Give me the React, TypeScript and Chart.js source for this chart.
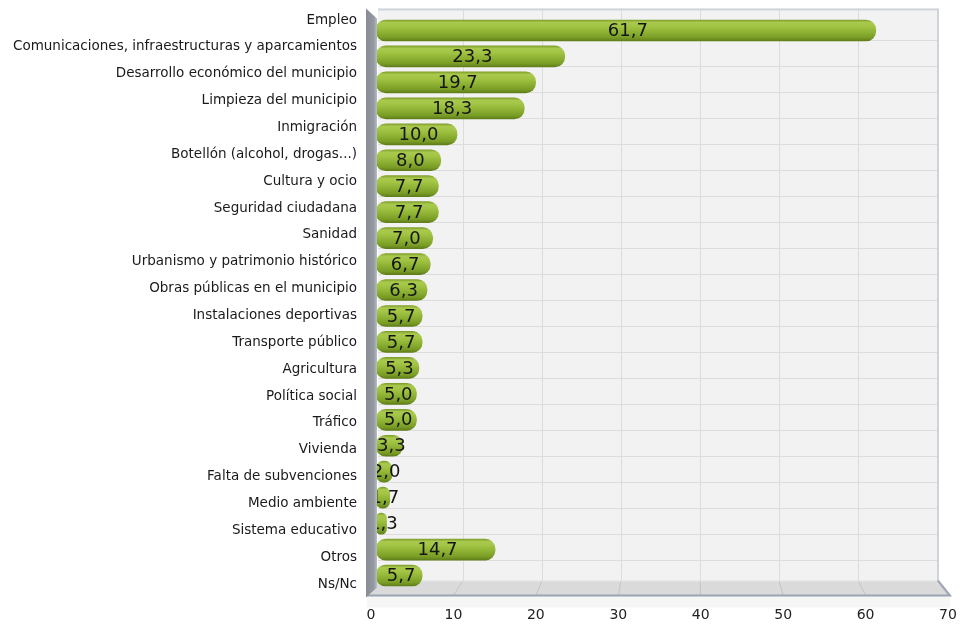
import React, { useEffect, useRef } from "react";
import { Chart, registerables } from "chart.js";

Chart.register(...registerables);

const categories = [
  "Empleo",
  "Comunicaciones, infraestructuras y aparcamientos",
  "Desarrollo económico del municipio",
  "Limpieza del municipio",
  "Inmigración",
  "Botellón (alcohol, drogas...)",
  "Cultura y ocio",
  "Seguridad ciudadana",
  "Sanidad",
  "Urbanismo y patrimonio histórico",
  "Obras públicas en el municipio",
  "Instalaciones deportivas",
  "Transporte público",
  "Agricultura",
  "Política social",
  "Tráfico",
  "Vivienda",
  "Falta de subvenciones",
  "Medio ambiente",
  "Sistema educativo",
  "Otros",
  "Ns/Nc",
];

const values = [
  61.7, 23.3, 19.7, 18.3, 10.0, 8.0, 7.7, 7.7, 7.0, 6.7, 6.3, 5.7, 5.7, 5.3,
  5.0, 5.0, 3.3, 2.0, 1.7, 1.3, 14.7, 5.7,
];

const tickValues = [0, 10, 20, 30, 40, 50, 60, 70];
const axisMax = 70;

const FONT = "'DejaVu Sans', Verdana, sans-serif";

const scenePlugin = {
  id: "scene3d",
  beforeDatasetsDraw(chart: any) {
    const { ctx, chartArea } = chart;
    const L = chartArea.left;
    const R = chartArea.right;
    const T = chartArea.top;
    const B = chartArea.bottom;
    const back = (v: number) => L + 8 + (v / axisMax) * (R - L - 14);
    const front = (v: number) => L - 5 + (v / axisMax) * (R - L + 10);
    const wallTop = T - 9;
    const wallBottom = B - 8;
    const floorBottom = B + 7;
    ctx.save();
    ctx.fillStyle = "#f2f2f2";
    ctx.fillRect(back(0) - 6, wallTop, back(axisMax) - back(0) + 6, wallBottom - wallTop);
    ctx.strokeStyle = "#dcdcdc";
    ctx.lineWidth = 1;
    const n = categories.length;
    const step = (B - T) / n;
    for (let k = 1; k < n; k++) {
      const y = Math.round(T + k * step - 3) + 0.5;
      ctx.beginPath();
      ctx.moveTo(back(0) - 6, y);
      ctx.lineTo(back(axisMax), y);
      ctx.stroke();
    }
    for (const v of tickValues) {
      if (v === 0) continue;
      const x = Math.round(back(v)) + 0.5;
      ctx.beginPath();
      ctx.moveTo(x, wallTop);
      ctx.lineTo(x, wallBottom);
      ctx.stroke();
    }
    ctx.strokeStyle = "#cfd4dc";
    ctx.lineWidth = 2;
    ctx.beginPath();
    ctx.moveTo(back(0) - 6, wallTop + 1);
    ctx.lineTo(back(axisMax) + 1, wallTop + 1);
    ctx.lineTo(back(axisMax) + 1, wallBottom);
    ctx.stroke();
    ctx.fillStyle = "#f6f6f6";
    ctx.fillRect(front(0) - 4, floorBottom, front(axisMax) - front(0) + 6, 12);
    ctx.fillStyle = "#dadada";
    ctx.beginPath();
    ctx.moveTo(back(0) - 6, wallBottom);
    ctx.lineTo(back(axisMax) + 2, wallBottom);
    ctx.lineTo(front(axisMax) + 2, floorBottom);
    ctx.lineTo(front(0) - 4, floorBottom);
    ctx.closePath();
    ctx.fill();
    ctx.strokeStyle = "#c4c4c4";
    ctx.lineWidth = 1;
    for (const v of tickValues) {
      if (v === 0) continue;
      ctx.beginPath();
      ctx.moveTo(back(v), wallBottom);
      ctx.lineTo(front(v), floorBottom);
      ctx.stroke();
    }
    ctx.strokeStyle = "#e6e6e6";
    ctx.beginPath();
    ctx.moveTo(back(0) - 6, wallBottom + 0.5);
    ctx.lineTo(back(axisMax), wallBottom + 0.5);
    ctx.stroke();
    ctx.strokeStyle = "#9aa4b2";
    ctx.lineWidth = 2;
    ctx.beginPath();
    ctx.moveTo(front(0) - 4, floorBottom);
    ctx.lineTo(front(axisMax) + 2, floorBottom);
    ctx.lineTo(back(axisMax) + 1, wallBottom);
    ctx.stroke();
    ctx.restore();
  },
  afterDatasetsDraw(chart: any) {
    const { ctx, chartArea } = chart;
    const meta = chart.getDatasetMeta(0);
    const L = chartArea.left;
    const R = chartArea.right;
    const T = chartArea.top;
    const B = chartArea.bottom;
    ctx.save();
    ctx.font = `18px ${FONT}`;
    ctx.fillStyle = "#151515";
    ctx.textAlign = "center";
    ctx.textBaseline = "middle";
    meta.data.forEach((bar: any, i: number) => {
      const label = values[i].toFixed(1).replace(".", ",");
      const cx = (bar.base + bar.x) / 2 + 2;
      ctx.fillText(label, cx, bar.y + 1);
    });
    const wallTop = T - 9;
    const wallBottom = B + 9;
    const x0 = L - 10;
    const x1 = L + 1;
    const grad = ctx.createLinearGradient(x0, 0, x1, 0);
    grad.addColorStop(0, "#878b93");
    grad.addColorStop(0.7, "#959aa2");
    grad.addColorStop(1, "#b9bdc4");
    ctx.fillStyle = grad;
    ctx.beginPath();
    ctx.moveTo(x0, wallTop);
    ctx.lineTo(x1, wallTop + 10);
    ctx.lineTo(x1, wallBottom - 10);
    ctx.lineTo(x0, wallBottom);
    ctx.closePath();
    ctx.fill();
    ctx.font = `13.5px ${FONT}`;
    ctx.fillStyle = "#1a1a1a";
    ctx.textAlign = "right";
    ctx.textBaseline = "middle";
    const n = categories.length;
    const first = T + 2.5;
    const last = B - 4.5;
    categories.forEach((c, i) => {
      const y = first + (i * (last - first)) / (n - 1);
      ctx.fillText(c, L - 19, y);
    });
    const front = (v: number) => L - 5 + (v / axisMax) * (R - L + 10);
    ctx.font = `14px ${FONT}`;
    ctx.fillStyle = "#222";
    ctx.textAlign = "center";
    ctx.textBaseline = "middle";
    tickValues.forEach((v) => {
      ctx.fillText(String(v), front(v), B + 27);
    });
    ctx.restore();
  },
};

export default function App() {
  const canvasRef = useRef<HTMLCanvasElement | null>(null);

  useEffect(() => {
    const canvas = canvasRef.current;
    if (!canvas) return;
    const chart = new Chart(canvas, {
      type: "bar",
      data: {
        labels: categories,
        datasets: [
          {
            data: values,
            barThickness: 21,
            borderRadius: 10,
            borderSkipped: false,
            backgroundColor: (c: any) => {
              const ch = c.chart;
              const area = ch.chartArea;
              if (!area) return "#8fb436";
              const y = ch.scales.y.getPixelForValue(c.dataIndex);
              const g = ch.ctx.createLinearGradient(0, y - 10.5, 0, y + 10.5);
              g.addColorStop(0, "#7f9f2c");
              g.addColorStop(0.12, "#a9c94e");
              g.addColorStop(0.3, "#a3c545");
              g.addColorStop(0.6, "#8cb032");
              g.addColorStop(0.85, "#789b25");
              g.addColorStop(1, "#5f7d1a");
              return g;
            },
          },
        ],
      },
      options: {
        indexAxis: "y",
        animation: false,
        responsive: false,
        maintainAspectRatio: false,
        layout: { padding: { left: 376, right: 19, top: 17.5, bottom: 36.5 } },
        plugins: {
          legend: { display: false },
          tooltip: { enabled: false },
        },
        scales: {
          x: { display: false, min: 0, max: axisMax },
          y: { display: false, offset: true },
        },
      },
      plugins: [scenePlugin],
    });
    return () => chart.destroy();
  }, []);

  return (
    <div style={{ position: "absolute", left: 0, top: 0, width: 962, height: 625, background: "#fff" }}>
      <canvas ref={canvasRef} width={962} height={625} style={{ display: "block" }} />
    </div>
  );
}
